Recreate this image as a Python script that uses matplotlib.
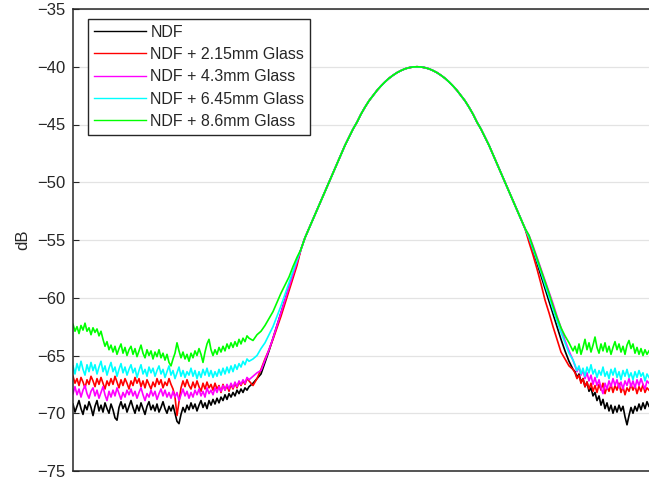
import numpy as np
import matplotlib
matplotlib.use("Agg")
import matplotlib.pyplot as plt

plt.rcParams['font.family'] = ['Liberation Sans', 'DejaVu Sans']

# measured spectra (dB); x is the offset (in px-like units) along the scan
labels = ['NDF', 'NDF + 2.15mm Glass', 'NDF + 4.3mm Glass',
          'NDF + 6.45mm Glass', 'NDF + 8.6mm Glass']
colors = ['#000000', '#ff0000', '#ff00ff', '#00ffff', '#00ff00']

# sample positions of each segment
left_floor_x = np.arange(0, 177, 2)
left_slope_x = np.arange(180, 225, 4)
peak_x = np.arange(228, 453, 4)
right_slope_x = np.arange(456, 501, 4)
right_floor_x = np.arange(502, 577, 2)

# left noise floor
lf_ndf = [-69.2, -69.9, -69.4, -68.9, -69.6, -70.1, -69.3, -69.7, -69.0, -69.5,
          -70.2, -69.4, -68.9, -69.8, -69.3, -69.9, -69.1, -69.6, -70.0, -69.2,
          -69.7, -70.4, -70.6, -69.5, -69.0, -69.6, -69.2, -69.9, -69.4, -68.9,
          -69.5, -70.0, -69.3, -69.8, -69.1, -69.6, -70.1, -69.4, -69.0, -69.7,
          -69.3, -69.8, -69.2, -69.9, -69.5, -69.0, -69.6, -70.0, -69.4, -69.8,
          -69.3, -70.0, -70.7, -70.9, -70.1, -69.5, -69.9, -69.3, -69.7, -69.1,
          -69.6, -69.2, -69.8, -69.3, -68.9, -69.5, -69.1, -69.6, -68.9, -69.3,
          -68.8, -69.2, -68.7, -69.1, -68.6, -68.9, -68.4, -68.8, -68.3, -68.6,
          -68.2, -68.5, -68.0, -68.3, -67.9, -68.2, -67.8, -68.0, -67.7]
lf_215 = [-66.8, -67.4, -67.0, -67.6, -66.9, -67.3, -67.8, -67.1, -67.5, -66.8,
          -67.2, -67.7, -67.0, -67.5, -66.9, -67.4, -67.9, -67.2, -67.6, -67.0,
          -67.5, -66.8, -67.3, -67.8, -67.1, -67.6, -67.0, -67.4, -67.9, -67.2,
          -67.6, -66.9, -67.4, -67.0, -67.7, -67.2, -67.8, -67.1, -67.5, -67.9,
          -67.3, -67.7, -67.0, -67.5, -67.1, -67.8, -67.3, -67.6, -67.0, -67.5,
          -67.9, -68.6, -70.2, -69.0, -67.8, -67.2, -67.7, -67.1, -67.6, -67.9,
          -67.3, -67.8, -67.2, -67.7, -68.1, -67.4, -67.9, -67.3, -67.8, -67.5,
          -68.0, -67.4, -67.9, -67.6, -68.2, -67.5, -68.0, -67.6, -68.1, -67.5,
          -67.9, -67.4, -67.8, -67.3, -67.6, -67.2, -67.5, -67.0, -67.2]
lf_43 = [-68.3, -67.7, -68.4, -67.9, -68.6, -68.0, -67.6, -68.3, -68.7, -68.1,
         -67.8, -68.5, -68.0, -68.7, -68.2, -67.7, -68.4, -68.9, -68.1, -68.6,
         -68.0, -68.5, -67.8, -68.3, -68.8, -68.2, -68.6, -68.0, -68.4, -67.9,
         -68.5, -68.1, -68.7, -68.2, -67.8, -68.4, -68.9, -68.3, -68.6, -68.0,
         -68.5, -68.1, -68.8, -68.3, -67.9, -68.5, -68.0, -68.6, -68.2, -68.7,
         -68.1, -68.6, -68.2, -68.9, -68.4, -67.9, -68.5, -68.1, -68.7, -68.2,
         -68.6, -68.0, -68.4, -67.9, -68.5, -68.1, -68.6, -67.8, -68.3, -68.0,
         -68.4, -67.8, -68.2, -67.7, -68.1, -67.6, -68.0, -67.5, -67.9, -67.4,
         -67.8, -67.3, -67.7, -67.2, -67.5, -67.1, -67.4, -66.9, -67.1]
lf_645 = [-65.9, -66.6, -65.7, -66.3, -65.5, -66.2, -66.7, -65.8, -66.4, -65.6,
          -66.3, -65.8, -66.6, -66.0, -65.5, -66.4, -65.9, -66.7, -66.1, -65.6,
          -66.4, -66.0, -66.8, -66.2, -65.7, -66.5, -66.0, -66.7, -66.2, -65.8,
          -66.5, -66.1, -66.9, -66.3, -65.8, -66.6, -66.2, -66.8, -66.0, -66.5,
          -66.1, -66.8, -66.3, -65.9, -66.6, -66.2, -66.9, -66.4, -65.9, -66.7,
          -66.3, -67.0, -66.5, -66.0, -66.8, -66.3, -66.9, -66.4, -66.7, -66.1,
          -66.8, -66.3, -67.0, -66.4, -66.9, -66.2, -66.7, -66.1, -66.8, -66.3,
          -66.9, -66.4, -66.8, -66.2, -66.7, -66.1, -66.6, -66.0, -66.5, -65.9,
          -66.4, -65.8, -66.2, -65.7, -66.0, -65.5, -65.8, -65.3, -65.5]
lf_86 = [-62.3, -62.9, -62.5, -63.1, -62.4, -62.8, -62.2, -62.9, -62.6, -63.2,
         -62.6, -63.0, -62.7, -63.3, -62.9, -63.6, -64.2, -63.8, -64.5, -64.1,
         -64.7, -64.2, -64.9, -64.4, -64.0, -64.8, -64.3, -65.0, -64.5, -64.2,
         -64.9, -64.4, -65.1, -64.6, -64.1, -64.8, -65.2, -64.5, -65.0, -64.6,
         -65.3, -64.7, -65.1, -64.5, -65.2, -64.8, -65.4, -64.9, -65.6, -65.9,
         -65.3, -64.8, -63.9, -64.6, -65.2, -64.7, -65.3, -64.9, -65.5, -64.8,
         -65.2, -64.6, -65.0, -64.4, -64.9, -65.6, -64.7, -64.0, -63.6, -64.5,
         -65.0, -64.5, -64.9, -64.3, -64.7, -64.2, -64.6, -64.0, -64.4, -63.9,
         -64.3, -63.8, -64.2, -63.6, -64.0, -63.5, -63.8, -63.3, -63.5]

# rising edge
ls_ndf = [-67.4, -67.0, -66.6, -65.6, -64.6, -63.5, -62.4, -61.3, -60.2, -59.1, -58.0, -56.9]
ls_215 = [-67.6, -67.0, -66.2, -65.3, -64.5, -63.6, -62.6, -61.6, -60.5, -59.4, -58.3, -57.2]
ls_43 = [-66.8, -66.5, -66.3, -65.4, -64.5, -63.5, -62.4, -61.3, -60.2, -59.1, -58.0, -56.9]
ls_645 = [-65.3, -65.0, -64.4, -63.9, -63.2, -62.5, -61.6, -60.7, -59.7, -58.7, -57.7, -56.7]
ls_86 = [-63.7, -63.2, -62.9, -62.4, -61.8, -61.2, -60.4, -59.6, -58.9, -58.2, -57.3, -56.5]

# main lobe (all traces overlap here)
peak = [-55.8, -54.8, -54.0, -53.2, -52.4, -51.6, -50.8, -50.0, -49.2, -48.4,
        -47.6, -46.8, -46.1, -45.4, -44.8, -44.1, -43.5, -42.95, -42.5, -42.05,
        -41.66, -41.31, -41.0, -40.74, -40.51, -40.33, -40.18, -40.08, -40.02, -40.0,
        -40.02, -40.08, -40.18, -40.33, -40.51, -40.74, -41.0, -41.31, -41.66, -42.05,
        -42.5, -42.95, -43.5, -44.1, -44.8, -45.4, -46.1, -46.8, -47.6, -48.4,
        -49.2, -50.0, -50.8, -51.6, -52.4, -53.2, -54.0]

# falling edge
rs_ndf = [-54.9, -55.9, -57.0, -58.1, -59.2, -60.3, -61.4, -62.5, -63.6, -64.6, -65.5, -66.2]
rs_215 = [-55.2, -56.3, -57.5, -58.8, -60.2, -61.3, -62.5, -63.6, -64.7, -65.3, -65.9, -66.2]
rs_43 = [-54.6, -55.5, -56.5, -57.5, -58.5, -59.5, -60.5, -61.6, -62.6, -63.7, -64.6, -65.4]
rs_645 = [-54.8, -55.8, -56.8, -57.8, -58.9, -59.9, -61.0, -62.0, -63.0, -63.9, -64.8, -65.4]
rs_86 = [-54.6, -55.6, -56.6, -57.6, -58.6, -59.6, -60.7, -61.7, -62.6, -63.3, -63.9, -64.6]

# right noise floor
rf_ndf = [-66.4, -66.9, -66.6, -67.3, -67.0, -67.7, -67.3, -68.1, -67.8, -68.5,
          -68.2, -68.9, -68.5, -69.3, -68.8, -69.6, -69.1, -69.8, -69.3, -70.0,
          -69.4, -69.9, -69.3, -69.8, -69.4, -70.3, -71.0, -70.2, -69.5, -70.0,
          -69.4, -69.8, -69.2, -69.7, -69.1, -69.6, -69.0, -69.4]
rf_215 = [-66.5, -67.0, -66.7, -67.4, -67.0, -67.7, -67.3, -67.9, -67.4, -68.1,
          -67.6, -68.2, -67.5, -68.0, -67.4, -68.3, -67.7, -68.1, -67.5, -68.2,
          -67.6, -68.0, -67.4, -68.2, -67.7, -68.4, -67.8, -68.1, -67.5, -68.0,
          -67.6, -68.3, -67.7, -68.1, -67.5, -68.2, -67.8, -68.0]
rf_43 = [-65.9, -66.4, -66.0, -66.7, -66.3, -67.0, -66.5, -67.2, -66.7, -67.5,
         -66.9, -67.6, -67.1, -67.8, -68.3, -67.4, -67.9, -67.2, -67.7, -67.0,
         -67.6, -67.1, -67.8, -67.3, -67.9, -67.2, -67.6, -67.0, -67.7, -67.2,
         -67.8, -67.1, -67.6, -67.0, -67.5, -67.9, -67.2, -67.4]
rf_645 = [-65.8, -66.3, -65.9, -66.6, -66.1, -66.8, -66.0, -66.5, -65.8, -66.6,
          -66.2, -66.9, -66.3, -66.7, -66.0, -66.8, -66.4, -67.0, -66.2, -66.7,
          -66.1, -66.9, -66.4, -67.1, -66.3, -66.8, -66.2, -66.9, -66.5, -67.1,
          -66.4, -66.9, -66.3, -66.8, -66.5, -67.2, -66.6, -66.9]
rf_86 = [-64.2, -64.8, -64.0, -64.9, -64.3, -63.6, -64.5, -63.9, -64.7, -64.1,
         -63.4, -64.3, -64.8, -64.0, -64.6, -63.9, -64.7, -64.2, -64.9, -64.3,
         -63.8, -64.5, -64.0, -64.7, -64.2, -64.9, -64.1, -63.7, -64.4, -64.0,
         -64.8, -64.3, -64.9, -64.4, -65.0, -64.5, -64.9, -64.6]

left_floors = [lf_ndf, lf_215, lf_43, lf_645, lf_86]
left_slopes = [ls_ndf, ls_215, ls_43, ls_645, ls_86]
right_slopes = [rs_ndf, rs_215, rs_43, rs_645, rs_86]
right_floors = [rf_ndf, rf_215, rf_43, rf_645, rf_86]

y_ticks = [-75, -70, -65, -60, -55, -50, -45, -40, -35]

fig = plt.figure(figsize=(6.49, 4.87), dpi=100)
ax = fig.add_axes([73 / 649, 16 / 487, 587 / 649, 462 / 487])

x_all = np.concatenate([left_floor_x, left_slope_x, peak_x, right_slope_x, right_floor_x])
for i in range(len(labels)):
    trace = np.concatenate([left_floors[i], left_slopes[i], peak,
                            right_slopes[i], right_floors[i]])
    ax.plot(x_all, trace, color=colors[i], lw=1.2, label=labels[i])

ax.set_xlim(0, 587)
ax.set_ylim(-75, -35)
ax.set_yticks(y_ticks)
ax.set_xticks([])
ax.yaxis.grid(True, color='#e3e3e3', lw=0.9)
ax.set_axisbelow(True)

axis_col = '#262626'
for side in ['left', 'bottom', 'top']:
    ax.spines[side].set_color(axis_col)
    ax.spines[side].set_linewidth(1.1)
ax.spines['right'].set_visible(False)
ax.tick_params(axis='y', direction='in', length=4, width=0.8, color=axis_col,
               labelcolor=axis_col, labelsize=12, pad=5.5)
ax.set_ylabel('dB', fontsize=12, color=axis_col, labelpad=5)

leg = ax.legend(loc='upper left', bbox_to_anchor=(15 / 587, 1 - 10 / 462),
                borderaxespad=0, fontsize=11.5, handlelength=3.25,
                handletextpad=0.3, labelspacing=0.46, borderpad=0.35,
                fancybox=False, framealpha=1)
leg.get_frame().set_edgecolor(axis_col)
leg.get_frame().set_linewidth(1.0)
for line in leg.get_lines():
    line.set_linewidth(1.0)
for txt in leg.get_texts():
    txt.set_color(axis_col)

fig.savefig('out.png', dpi=100)
